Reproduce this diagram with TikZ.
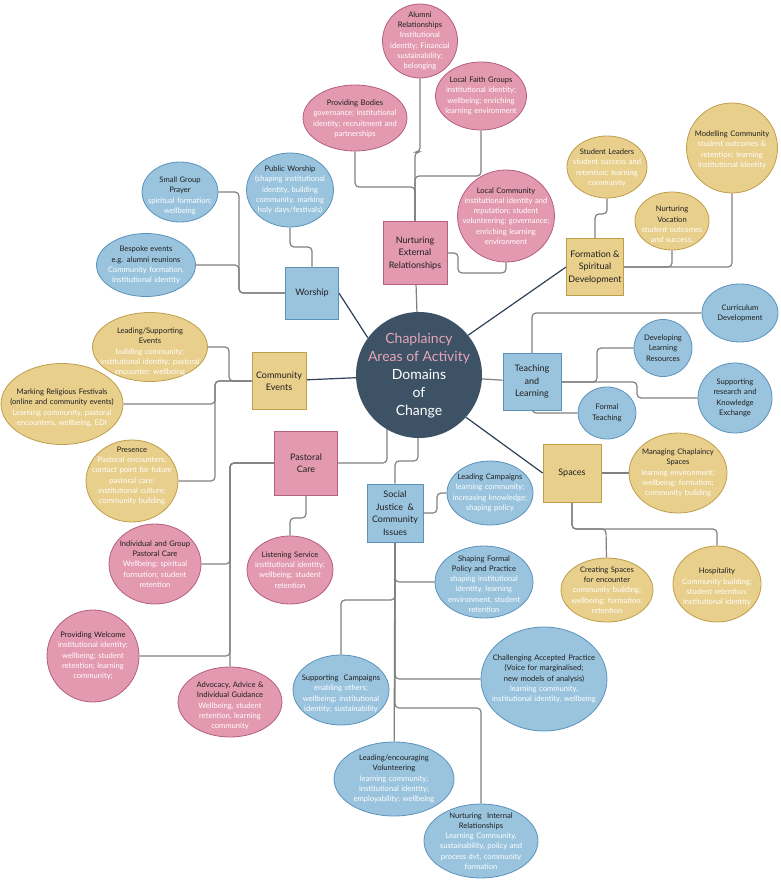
\documentclass[tikz,border=0pt]{standalone}
\usepackage{fontspec}
\setmainfont{Lato}
\usetikzlibrary{shapes.geometric}
\pgfdeclarelayer{bg}
\pgfsetlayers{bg,main}
\definecolor{pinkF}{HTML}{E39AB1}
\definecolor{pinkD}{HTML}{B45F7D}
\definecolor{blueF}{HTML}{9AC4DE}
\definecolor{blueD}{HTML}{5A92BC}
\definecolor{yelF}{HTML}{E9CF8C}
\definecolor{yelD}{HTML}{BF9E4A}
\definecolor{centerC}{HTML}{3D5265}
\definecolor{pinkT}{HTML}{E8A5BA}
\definecolor{connG}{HTML}{808080}
\definecolor{darkL}{HTML}{2E3F57}
\definecolor{titleC}{HTML}{1E1E1E}
% name, style, x, y, w, h, dy, title, description
\newcommand\bub[9]{%
  \node[bubble,#2,minimum width=#5pt,minimum height=#6pt] (#1) at (#3,#4) {};
  \node[bubtxt] (#1-t) at ([yshift=#7pt]#1.center) {#8\\\color{white}#9};}
% name, style, x, y, w, h, title
\newcommand\bubt[7]{%
  \node[bubble,#2,minimum width=#5pt,minimum height=#6pt] (#1) at (#3,#4) {};
  \node[bubtxt] (#1-t) at (#1.center) {#7};}
\begin{document}
\begin{tikzpicture}[x=1pt,y=-1pt,
  bubble/.style={ellipse,line width=0.8pt,inner sep=0pt},
  pinkb/.style={fill=pinkF,draw=pinkD},
  blueb/.style={fill=blueF,draw=blueD},
  yelb/.style={fill=yelF,draw=yelD},
  bubtxt/.style={text width=200pt,align=center,inner sep=0pt,font=\fontsize{7.6}{10.3}\selectfont,text=titleC},
  sq/.style={rectangle,line width=0.8pt,inner sep=0pt,align=center,font=\fontsize{9}{12.5}\selectfont,text=titleC},
  conn/.style={draw=connG,line width=1.2pt,rounded corners=4pt},
  darkline/.style={draw=darkL,line width=1.2pt}]
\useasboundingbox (0,0) rectangle (780,883);

% centre
\node[circle,fill=centerC,minimum size=126pt,inner sep=0pt] (c) at (419,375) {};
\node[align=center,inner sep=0pt,font=\fontsize{14}{18}\selectfont] (c-t) at ([yshift=-1pt]c.center)
  {\color{pinkT}Chaplaincy\\\color{pinkT}Areas of Activity\\\color{white}Domains\\\color{white}of\\\color{white}Change};

% domain boxes
\node[sq,pinkb,minimum width=64pt,minimum height=63pt] (ner) at (415,253) {Nurturing\\External\\Relationships};
\node[sq,blueb,minimum width=53pt,minimum height=52pt] (wor) at (312,293) {Worship};
\node[sq,yelb,minimum width=57pt,minimum height=57pt] (fsd) at (595,267) {Formation \&\\Spiritual\\Development};
\node[sq,yelb,minimum width=54pt,minimum height=57pt] (ce) at (279,381) {Community\\Events};
\node[sq,blueb,minimum width=58pt,minimum height=57pt] (tl) at (532,382) {Teaching\\and\\Learning};
\node[sq,yelb,minimum width=58pt,minimum height=58pt] (sp) at (572,473) {Spaces};
\node[sq,pinkb,minimum width=63pt,minimum height=64pt] (pc) at (306,463) {Pastoral\\Care};
\node[sq,blueb,minimum width=56pt,minimum height=58pt] (sj) at (395,513) {Social\\Justice~~\&\\Community\\Issues};

% bubbles
\bub{al}{pinkb}{420}{41}{75}{74}{0}{Alumni\\Relationships}{Institutional\\identity; Financial\\sustainability;\\belonging}
\bub{pb}{pinkb}{355}{118}{104}{66}{-1}{Providing Bodies}{governance; institutional\\identity; recruitment and\\partnerships}
\bub{lfg}{pinkb}{481}{96}{91}{68}{0}{Local Faith Groups}{institutional identity;\\wellbeing; enriching\\learning environment}
\bub{lc}{pinkb}{506}{216}{97}{92}{0}{Local Community}{institutional identity and\\reputation; student\\volunteering; governance;\\enriching learning\\environment}
\bub{sl}{yelb}{607}{167}{80}{62}{-1}{Student Leaders}{student success and\\retention; learning\\community}
\bub{mc}{yelb}{732}{148}{91}{90}{-2}{Modelling Community}{student outcomes \&\\retention; learning\\institutional identity}
\bub{nv}{yelb}{672}{221}{74}{58}{-4}{Nurturing\\Vocation}{student outcomes\\and success;}
\bub{sgp}{blueb}{180}{192}{76}{60}{-4}{Small Group\\Prayer}{spiritual formation;\\wellbeing}
\bub{pw}{blueb}{290}{190}{87}{74}{0}{Public Worship}{(shaping institutional\\identity, building\\community, marking\\holy days/festivals)}
\bub{be}{blueb}{146}{265}{99}{63}{0}{Bespoke events\\e.g. alumni reunions}{Community formation,\\institutional identity}
\bub{lse}{yelb}{150}{347}{115}{69}{-5}{Leading/Supporting\\Events}{building community;\\institutional identity; pastoral\\encounter; wellbeing}
\bub{mrf}{yelb}{62}{404}{122}{81}{-4}{Marking Religious Festivals\\(online and community events)}{Learning community, pastoral\\encounters, wellbeing, EDI}
\bub{pres}{yelb}{132}{481}{92}{82}{5}{Presence}{Pastoral encounters;\\contact point for future\\pastoral care;\\institutional culture;\\community building}
\bubt{cd}{blueb}{740}{313}{76}{58}{Curriculum\\Development}
\bubt{dlr}{blueb}{663}{348}{58}{57}{Developing\\Learning\\Resources}
\bubt{srke}{blueb}{735}{398}{74}{70}{Supporting\\research and\\Knowledge\\Exchange}
\bubt{ft}{blueb}{607}{413}{58}{52}{Formal\\Teaching}
\bub{mcs}{yelb}{678}{473}{98}{80}{0}{Managing Chaplaincy\\Spaces}{learning environment;\\wellbeing; formation;\\community building}
\bub{cs}{yelb}{607}{590}{92}{64}{0}{Creating Spaces\\for encounter}{community building;\\wellbeing; formation;\\retention}
\bub{hosp}{yelb}{717}{584}{88}{76}{-3}{Hospitality}{Community building;\\student retention;\\institutional identity}
\bub{igpc}{pinkb}{155}{564}{92}{80}{0}{Individual and Group\\Pastoral Care}{Wellbeing; spiritual\\formation; student\\retention}
\bub{ls}{pinkb}{290}{570}{86}{68}{0}{Listening Service}{institutional identity;\\wellbeing; student\\retention}
\bub{lcamp}{blueb}{490}{493}{86}{64}{0}{Leading Campaigns}{learning community;\\increasing knowledge;\\shaping policy}
\bub{sfp}{blueb}{484}{582}{98}{72}{-2}{Shaping Formal\\Policy and Practice}{shaping institutional\\identity, learning\\environment, student\\retention}
\bub{pwel}{pinkb}{93}{656}{92}{92}{0}{Providing Welcome}{institutional identity;\\wellbeing; student\\retention; learning\\community;}
\bub{adv}{pinkb}{230}{702}{104}{70}{-4}{Advocacy, Advice \&\\Individual Guidance}{Wellbeing, student\\retention, learning\\community}
\bub{sc}{blueb}{341}{690}{96}{70}{-4}{Supporting~~Campaigns}{enabling others;\\wellbeing; institutional\\identity; sustainability}
\bub{cap}{blueb}{544}{679}{126}{104}{0}{Challenging Accepted Practice\\(Voice for marginalised;\\new models of analysis)}{learning community,\\institutional identity, wellbeing}
\bub{lev}{blueb}{394}{779}{120}{74}{0}{Leading/encouraging\\Volunteering}{learning community;\\institutional identity;\\employability; wellbeing}
\bub{nir}{blueb}{481}{841}{114}{74}{0}{Nurturing~~Internal\\Relationships}{Learning Community,\\sustainability, policy and\\process dvt, community\\formation}

\coordinate (cpc) at (387,410);
\coordinate (csj) at (418,410);

\begin{pgfonlayer}{bg}
% centre links
\draw[conn] (ner) -- (c);
\draw[conn] (c) -- (tl);
\draw[conn] (pc) -- (387,463) -- (cpc);
\draw[conn] (sj) |- (418,461) -- (csj);
\draw[darkline] (wor.east) -- (c.144);
\draw[darkline] (fsd.west) -- (c.39);
\draw[darkline] (ce) -- (c);
\draw[darkline] (sp.west) -- (c.-42);
% external relationships
\draw[conn] (al) |- (415,152) -- (ner);
\draw[conn] (pb) |- (415,187) -- (ner);
\draw[conn] (lfg) |- (415,176) -- (ner);
\draw[conn] (ner) -- (458,253) |- (506,273) -- (lc);
% formation
\draw[conn] (sl) |- (595,214) -- (fsd);
\draw[conn] (fsd) -| (nv);
\draw[conn] (fsd) -| (mc);
% worship
\draw[conn] (pw) |- (312,247) -- (wor);
\draw[conn] (sgp) -| (239,293) -- (wor);
\draw[conn] (be) -| (239,293) -- (wor);
% community events
\draw[conn] (lse) -| (229,381) -- (ce);
\draw[conn] (mrf) -| (215,381) -- (ce);
\draw[conn] (pres) -| (215,381) -- (ce);
% teaching
\draw[conn] (tl) |- (cd);
\draw[conn] (tl) -- (597,382) |- (dlr);
\draw[conn] (tl) -- (637,382) |- (srke);
\draw[conn] (tl) |- (ft);
% spaces
\draw[conn] (sp) -- (mcs);
\draw[conn] (sp) |- (606,529) -- (cs);
\draw[conn] (sp) |- (717,529) -- (hosp);
% pastoral
\draw[conn] (pc) |- (290,518) -- (ls);
\draw[conn] (pc) -| (230,564) -- (igpc);
\draw[conn] (pc) -| (230,656) -- (pwel);
\draw[conn] (pc) -| (adv);
% social justice
\draw[conn] (sj) -- (437,513) |- (lcamp);
\draw[conn] (sj) |- (sfp);
\draw[conn] (sj) |- (341,600) -- (sc);
\draw[conn] (sj) |- (cap);
\draw[conn] (sj) -- (lev);
\draw[conn] (sj) |- (481,708) -- (nir);
\end{pgfonlayer}
\end{tikzpicture}
\end{document}
